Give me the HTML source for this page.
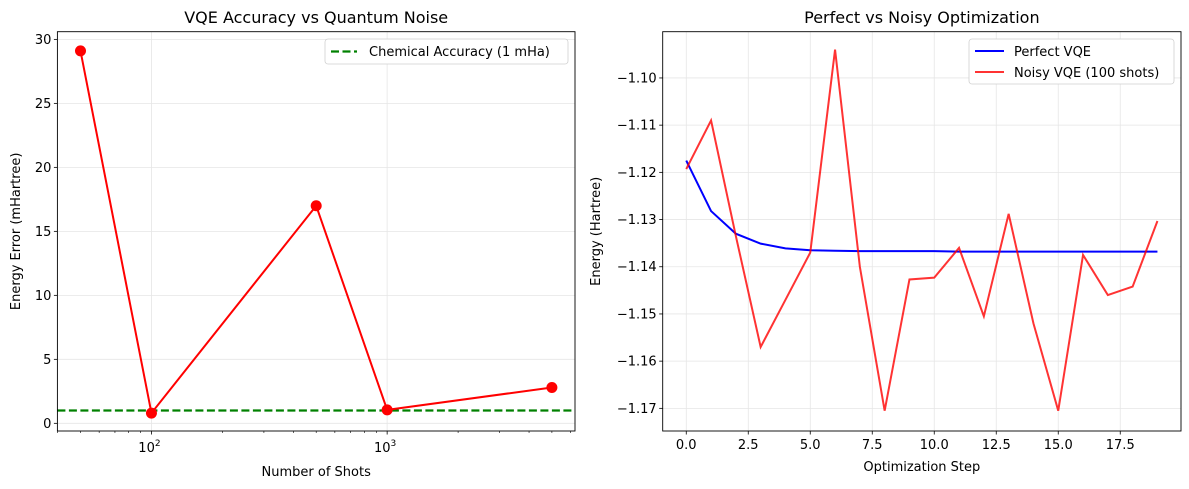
<!DOCTYPE html>
<html><head><meta charset="utf-8"><style>
html,body{margin:0;padding:0;background:#fff;}
svg{display:block;font-family:"DejaVu Sans","Liberation Sans",sans-serif;}
</style></head><body>
<svg id="chart" width="1189" height="489" viewBox="0 0 1189 489" xmlns="http://www.w3.org/2000/svg">
<g id="left"></g>
<g id="right"></g>
</svg>
<script>
const shots = [50, 100, 500, 1000, 5000];
const errors = [29.1, 0.8, 17.0, 1.05, 2.8];
const chemAcc = 1.0;
const leftYTicks = [0, 5, 10, 15, 20, 25, 30];
const steps = [0,1,2,3,4,5,6,7,8,9,10,11,12,13,14,15,16,17,18,19];
const perfectE = [-1.1175,-1.1282,-1.1330,-1.1351,-1.1361,-1.1365,-1.1366,-1.1367,-1.1367,-1.1367,-1.1367,-1.1368,-1.1368,-1.1368,-1.1368,-1.1368,-1.1368,-1.1368,-1.1368,-1.1368];
const noisyE = [-1.1193,-1.1090,-1.1335,-1.1570,-1.1470,-1.1370,-1.0940,-1.1400,-1.1705,-1.1427,-1.1423,-1.1360,-1.1505,-1.1288,-1.1520,-1.1705,-1.1375,-1.1460,-1.1442,-1.1303];
const rightXTicks = [0,2.5,5,7.5,10,12.5,15,17.5];
const rightYTicks = [-1.10,-1.11,-1.12,-1.13,-1.14,-1.15,-1.16,-1.17];

const NS="http://www.w3.org/2000/svg";
function mk(parent,tag,attrs,text){const e=document.createElementNS(NS,tag);for(const k in attrs)e.setAttribute(k,attrs[k]);if(text!==undefined)e.textContent=text;parent.appendChild(e);return e;}

// LEFT
const L=document.getElementById('left');
const lx0=57.4,lx1=575,ly0=31.7,ly1=431;
const lxmin=Math.log10(39.9),lxmax=3.797,lymin=-0.6,lymax=30.6;
const lxs=v=>lx0+(Math.log10(v)-lxmin)/(lxmax-lxmin)*(lx1-lx0);
const lys=v=>ly1-(v-lymin)/(lymax-lymin)*(ly1-ly0);
let t=mk(L,'text',{x:(lx0+lx1)/2,y:23,'text-anchor':'middle','font-size':16});t.textContent='VQE Accuracy vs Quantum Noise';

leftYTicks.forEach(v=>{const y=lys(v);
 mk(L,'line',{x1:lx0,x2:lx1,y1:y,y2:y,stroke:'#e6e6e6','stroke-width':0.8});
 mk(L,'line',{x1:lx0-3.5,x2:lx0,y1:y,y2:y,stroke:'#000','stroke-width':0.8});
 const tt=mk(L,'text',{x:lx0-6,y:y+4.5,'text-anchor':'end','font-size':13},String(v));
 });
[100,1000].forEach((v,i)=>{const x=lxs(v);
 mk(L,'line',{x1:x,x2:x,y1:ly0,y2:ly1,stroke:'#e6e6e6','stroke-width':0.8});
 mk(L,'line',{x1:x,x2:x,y1:ly1,y2:ly1+3.5,stroke:'#000','stroke-width':0.8});
 const tt=mk(L,'text',{x:x-2,y:ly1+21,'text-anchor':'middle','font-size':13},'10');
 mk(tt,'tspan',{dy:-6,'font-size':9},i==0?'2':'3');
 });
[40,50,60,70,80,90,200,300,400,500,600,700,800,900,2000,3000,4000,5000,6000].forEach(v=>{const x=lxs(v);
 mk(L,'line',{x1:x,x2:x,y1:ly1,y2:ly1+2,stroke:'#000','stroke-width':0.6});});
t=mk(L,'line',{x1:lx0,x2:lx1,y1:lys(chemAcc),y2:lys(chemAcc),stroke:'#008000','stroke-width':2.2,'stroke-dasharray':'8,3.5'});

t=mk(L,'polyline',{points:shots.map((s,i)=>lxs(s)+','+lys(errors[i])).join(' '),fill:'none',stroke:'#ff0000','stroke-width':2});

shots.forEach((s,i)=>{const c=mk(L,'circle',{cx:lxs(s),cy:lys(errors[i]),r:5.5,fill:'#ff0000'});
 });
mk(L,'rect',{x:lx0,y:ly0,width:lx1-lx0,height:ly1-ly0,fill:'none',stroke:'#000','stroke-width':0.9});
t=mk(L,'text',{x:(lx0+lx1)/2,y:476,'text-anchor':'middle','font-size':13},'Number of Shots');

t=mk(L,'text',{x:0,y:0,'text-anchor':'middle','font-size':13,transform:'translate(20,'+((ly0+ly1)/2)+') rotate(-90)'},'Energy Error (mHartree)');

let lg=mk(L,'g',{});
mk(lg,'rect',{x:325,y:39,width:243,height:25,rx:3,fill:'#fff',stroke:'#d0d0d0','stroke-width':0.8});
mk(lg,'line',{x1:331,x2:357,y1:51.5,y2:51.5,stroke:'#008000','stroke-width':2.2,'stroke-dasharray':'8,3.5'});
mk(lg,'text',{x:369,y:56,'font-size':13},'Chemical Accuracy (1 mHa)');

// RIGHT
const R=document.getElementById('right');
const rx0=662.7,rx1=1181,ry0=31.7,ry1=431;
const rxmin=-0.95,rxmax=19.95,rymin=-1.1748,rymax=-1.0902;
const rxs=v=>rx0+(v-rxmin)/(rxmax-rxmin)*(rx1-rx0);
const rys=v=>ry1-(v-rymin)/(rymax-rymin)*(ry1-ry0);
t=mk(R,'text',{x:(rx0+rx1)/2,y:23,'text-anchor':'middle','font-size':16},'Perfect vs Noisy Optimization');

rightYTicks.forEach(v=>{const y=rys(v);
 mk(R,'line',{x1:rx0,x2:rx1,y1:y,y2:y,stroke:'#e6e6e6','stroke-width':0.8});
 mk(R,'line',{x1:rx0-3.5,x2:rx0,y1:y,y2:y,stroke:'#000','stroke-width':0.8});
 const tt=mk(R,'text',{x:rx0-6,y:y+4.5,'text-anchor':'end','font-size':13},'\u2212'+Math.abs(v).toFixed(2));
 });
rightXTicks.forEach(v=>{const x=rxs(v);
 mk(R,'line',{x1:x,x2:x,y1:ry0,y2:ry1,stroke:'#e6e6e6','stroke-width':0.8});
 mk(R,'line',{x1:x,x2:x,y1:ry1,y2:ry1+3.5,stroke:'#000','stroke-width':0.8});
 const tt=mk(R,'text',{x:x,y:ry1+18,'text-anchor':'middle','font-size':13},v.toFixed(1));
 });
t=mk(R,'polyline',{points:steps.map((s,i)=>rxs(s)+','+rys(perfectE[i])).join(' '),fill:'none',stroke:'#0000ff','stroke-width':2});

t=mk(R,'polyline',{points:steps.map((s,i)=>rxs(s)+','+rys(noisyE[i])).join(' '),fill:'none',stroke:'#ff0000','stroke-opacity':0.8,'stroke-width':2});

mk(R,'rect',{x:rx0,y:ry0,width:rx1-rx0,height:ry1-ry0,fill:'none',stroke:'#000','stroke-width':0.9});
t=mk(R,'text',{x:(rx0+rx1)/2,y:471,'text-anchor':'middle','font-size':13},'Optimization Step');

t=mk(R,'text',{x:0,y:0,'text-anchor':'middle','font-size':13,transform:'translate(600,'+((ry0+ry1)/2)+') rotate(-90)'},'Energy (Hartree)');

lg=mk(R,'g',{});
mk(lg,'rect',{x:969,y:39,width:205,height:45,rx:3,fill:'#fff',stroke:'#d0d0d0','stroke-width':0.8});
mk(lg,'line',{x1:975,x2:1004,y1:51,y2:51,stroke:'#0000ff','stroke-width':2});
mk(lg,'text',{x:1014,y:56,'font-size':13},'Perfect VQE');
mk(lg,'line',{x1:975,x2:1004,y1:72,y2:72,stroke:'#ff0000','stroke-opacity':0.8,'stroke-width':2});
mk(lg,'text',{x:1014,y:77,'font-size':13},'Noisy VQE (100 shots)');
</script>
</body></html>
